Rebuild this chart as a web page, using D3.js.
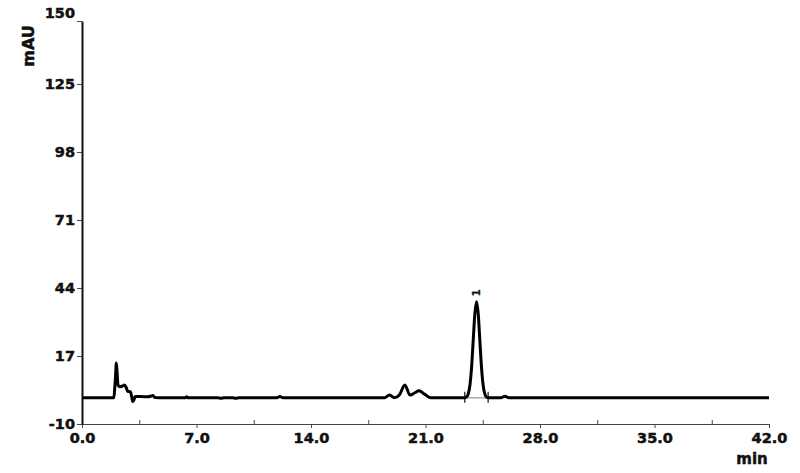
<!DOCTYPE html>
<html>
<head>
<meta charset="utf-8">
<script src="https://cdn.jsdelivr.net/npm/d3@7"></script>
<style>
html,body{margin:0;padding:0;background:#fff;}
svg{display:block;}
text{font-family:"DejaVu Sans",sans-serif;font-weight:bold;fill:#111;}
</style>
</head>
<body>
<svg id="chart" width="800" height="473"></svg>
<script>
// Chromatogram trace (time in min, signal in mAU)
const times = [0, 1.95, 2.0, 2.05, 2.1, 2.15, 2.2, 2.3, 2.45, 2.6, 2.7, 2.8, 2.95, 3.05, 3.1, 3.17, 3.25, 3.6, 4.0, 4.2, 4.34, 4.45, 5.0,
  6.3, 6.4, 6.5, 8.3, 8.5, 8.7, 9.2, 9.4, 9.6, 11.9, 12.1, 12.3,
  18.5, 18.8, 19.1, 19.4, 19.74, 20.05, 20.35, 20.6, 20.95, 21.3,
  23.4, 23.52, 23.62, 23.72, 23.82, 23.92, 24.02, 24.12, 24.22, 24.32, 24.42, 24.52, 24.62, 24.72, 24.85,
  25.6, 25.86, 26.1, 42.0];
const signal = [0.4, 0.4, 4.0, 9.0, 14.2, 10.0, 5.5, 4.8, 5.0, 5.5, 4.5, 3.0, 2.8, 0.5, -1.1, -0.5, 0.9, 0.9, 0.8, 1.0, 1.3, 0.5, 0.4,
  0.4, 0.8, 0.4, 0.4, 0.2, 0.4, 0.4, 0.2, 0.4, 0.4, 0.9, 0.4,
  0.4, 1.5, 0.4, 1.5, 5.5, 1.5, 2.4, 3.2, 1.8, 0.4,
  0.4, 0.8, 2.1, 5.6, 12.8, 23.5, 34.0, 38.5, 34.0, 23.5, 12.8, 5.6, 2.1, 0.8, 0.4,
  0.4, 1.0, 0.4, 0.4];

const yTicks = [-10, 17, 44, 71, 98, 125, 150];
const xTicks = [0, 7, 14, 21, 28, 35, 42];
const xMinorTicks = [3.5, 10.5, 17.5, 24.5, 31.5, 38.5];

// Integrated peak: label, start, end
const peakLabels = ["1"];
const peakApex = [24.12];
const peakHeight = [38.5];
const peakStart = [23.4];
const peakEnd = [24.83];
const peakBase = [0.4];

const svg = d3.select("#chart");
const x = d3.scaleLinear().domain([0, 42]).range([82, 769]);
const y = d3.scaleLinear().domain([-10, 150]).range([424, 21]);

const boldText = sel => sel.style("font-family", "DejaVu Sans").style("font-weight", "bold")
  .attr("fill", "#111").attr("stroke", "#111").attr("stroke-width", 0.5);

// X axis
const xAxis = svg.append("g").attr("transform", "translate(0,424)")
  .call(d3.axisBottom(x).tickValues(xTicks).tickFormat(d => d.toFixed(1)).tickSize(4).tickSizeOuter(0));
xAxis.select(".domain").attr("stroke", "#444").attr("stroke-width", 1.2);
xAxis.selectAll(".tick line").attr("stroke", "#444");
xAxis.selectAll(".tick text").attr("font-size", 14.5).attr("dy", 0).attr("y", 19).call(boldText);
svg.append("g").attr("transform", "translate(0,424)")
  .call(d3.axisBottom(x).tickValues(xMinorTicks).tickFormat("").tickSize(-4).tickSizeOuter(0))
  .call(g => g.select(".domain").remove())
  .call(g => g.selectAll(".tick line").attr("stroke", "#444"));

// Y axis
const yAxis = svg.append("g").attr("transform", "translate(82,0)")
  .call(d3.axisLeft(y).tickValues(yTicks).tickFormat(d => String(d)).tickSize(5).tickSizeOuter(0));
yAxis.select(".domain").attr("stroke", "#111").attr("stroke-width", 2);
yAxis.selectAll(".tick line").attr("stroke", "#444");
yAxis.selectAll(".tick text").attr("font-size", 14.5).attr("x", -7).call(boldText);
yAxis.selectAll(".tick").filter(d => d === 150).select("text").attr("dy", "-0.25em");

// Axis titles
svg.append("text").attr("transform", "translate(34,46) rotate(-90)")
  .attr("text-anchor", "middle").attr("font-size", 16).call(boldText).text("mAU");
svg.append("text").attr("x", 752).attr("y", 464)
  .attr("text-anchor", "middle").attr("font-size", 15).call(boldText).text("min");

// Integration baseline and markers
peakLabels.forEach((lab, i) => {
  svg.append("line")
    .attr("x1", x(peakStart[i])).attr("x2", x(peakEnd[i]))
    .attr("y1", y(peakBase[i])).attr("y2", y(peakBase[i]))
    .attr("stroke", "#aaa").attr("stroke-width", 1.5);
  [peakStart[i], peakEnd[i]].forEach(t => {
    svg.append("line")
      .attr("x1", x(t)).attr("x2", x(t))
      .attr("y1", y(peakBase[i]) - 6).attr("y2", y(peakBase[i]) + 5)
      .attr("stroke", "#222").attr("stroke-width", 1.3);
  });
});

// Trace
const pts = times.map((t, i) => [t, signal[i]]);
const line = d3.line().x(d => x(d[0])).y(d => y(d[1])).curve(d3.curveMonotoneX);
svg.append("path").datum(pts).attr("d", line)
  .attr("fill", "none").attr("stroke", "#000").attr("stroke-width", 3)
  .attr("stroke-linejoin", "round");

// Peak labels
peakLabels.forEach((lab, i) => {
  svg.append("text")
    .attr("transform", `translate(${x(peakApex[i]) + 3},${y(peakHeight[i]) - 9}) rotate(-90)`)
    .attr("text-anchor", "middle").attr("font-size", 10).attr("stroke", "#111").attr("stroke-width", 0.3)
    .text(lab);
});
</script>
</body>
</html>
